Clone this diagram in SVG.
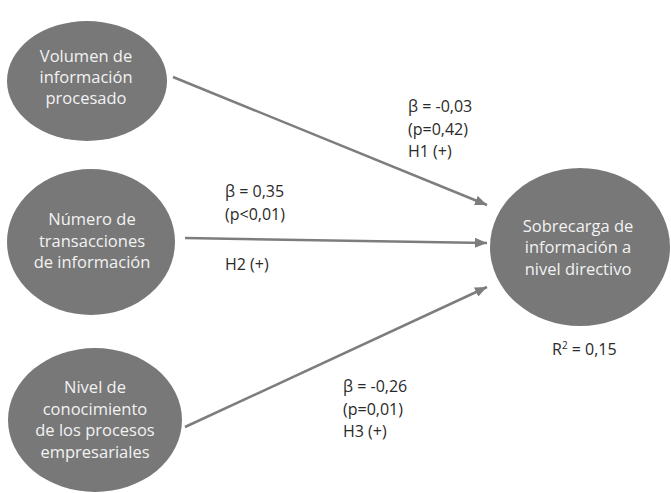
<svg xmlns="http://www.w3.org/2000/svg" width="671" height="493" viewBox="0 0 671 493">
<style>
.node{fill:#787878;}
.nt{font-family:"Open Sans","Liberation Sans",sans-serif;font-size:16.5px;fill:#f2f2f2;text-anchor:middle;}
.lbl{font-family:"Open Sans","Liberation Sans",sans-serif;font-size:16px;fill:#2a2a2a;}
.conn{stroke:#7d7d7d;stroke-width:2.5;fill:none;marker-end:url(#arr);}
</style>
<defs>
<marker id="arr" markerUnits="userSpaceOnUse" markerWidth="13" markerHeight="10" refX="12" refY="5" orient="auto">
<path d="M0,0 L12,5 L0,10 z" fill="#7d7d7d"/>
</marker>
</defs>
<rect width="671" height="493" fill="#ffffff"/>
<g id="connectors">
<line class="conn" x1="173" y1="77" x2="487" y2="205"/>
<line class="conn" x1="185" y1="238" x2="487" y2="243"/>
<line class="conn" x1="185" y1="427" x2="487" y2="287"/>
</g>
<g id="n1">
<ellipse class="node" cx="87" cy="81" rx="80" ry="60"/>
<text class="nt" x="86" y="62">Volumen de</text>
<text class="nt" x="86" y="83">información</text>
<text class="nt" x="86" y="104">procesado</text>
</g>
<g id="n2">
<ellipse class="node" cx="91" cy="242" rx="84" ry="73"/>
<text class="nt" x="92" y="225">Número de</text>
<text class="nt" x="92" y="247">transacciones</text>
<text class="nt" x="92" y="268">de información</text>
</g>
<g id="n3">
<ellipse class="node" cx="95" cy="420" rx="87" ry="72"/>
<text class="nt" x="95" y="393">Nivel de</text>
<text class="nt" x="95" y="414.5">conocimiento</text>
<text class="nt" x="95" y="436">de los procesos</text>
<text class="nt" x="95" y="457.5">empresariales</text>
</g>
<g id="n4">
<ellipse class="node" cx="580" cy="247" rx="90" ry="79"/>
<text class="nt" x="578" y="232">Sobrecarga de</text>
<text class="nt" x="578" y="253">información a</text>
<text class="nt" x="578" y="275">nivel directivo</text>
</g>
<g id="labels">
<text class="lbl" x="408" y="112">β = -0,03</text>
<text class="lbl" x="408" y="135">(p=0,42)</text>
<text class="lbl" x="408" y="157">H1 (+)</text>
<text class="lbl" x="225" y="197">β = 0,35</text>
<text class="lbl" x="225" y="220">(p&lt;0,01)</text>
<text class="lbl" x="225" y="270">H2 (+)</text>
<text class="lbl" x="343" y="392">β = -0,26</text>
<text class="lbl" x="343" y="415">(p=0,01)</text>
<text class="lbl" x="343" y="437">H3 (+)</text>
<text class="lbl" x="552" y="355">R<tspan font-size="10" dy="-6">2</tspan><tspan dy="6"> = 0,15</tspan></text>
</g>
</svg>
